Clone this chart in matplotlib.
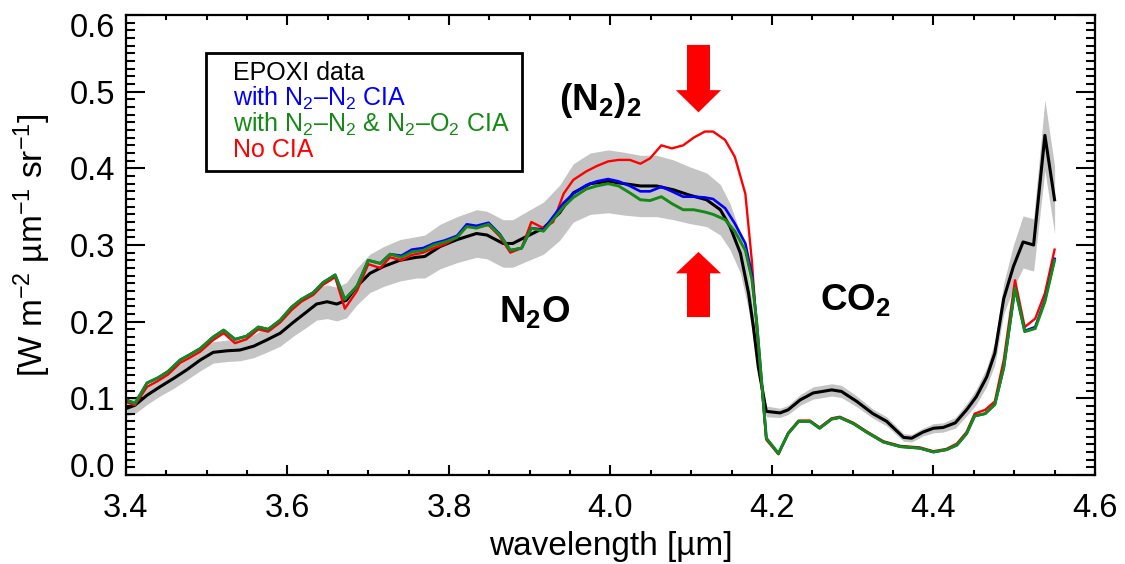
import matplotlib
matplotlib.use('Agg')
import matplotlib.pyplot as plt
from matplotlib.patches import Rectangle, FancyArrow
from matplotlib.ticker import MultipleLocator, FormatStrFormatter
from matplotlib.transforms import ScaledTranslation

plt.rcParams['font.family'] = ['Liberation Sans', 'DejaVu Sans']
plt.rcParams['mathtext.fontset'] = 'custom'
plt.rcParams['mathtext.rm'] = 'Liberation Sans'
plt.rcParams['mathtext.it'] = 'Liberation Sans:italic'
plt.rcParams['mathtext.bf'] = 'Liberation Sans:bold'

# EPOXI observation (black) with 1-sigma band
wl_obs = [3.401, 3.411, 3.426, 3.442, 3.459, 3.475, 3.492, 3.508, 3.525, 3.541,
          3.558, 3.574, 3.591, 3.607, 3.624, 3.636, 3.649, 3.661, 3.673, 3.686,
          3.702, 3.719, 3.739, 3.760, 3.770, 3.789, 3.810, 3.834, 3.847, 3.867,
          3.879, 3.892, 3.917, 3.937, 3.954, 3.975, 3.997, 4.017, 4.037, 4.057,
          4.078, 4.098, 4.119, 4.136, 4.148, 4.161, 4.171, 4.177, 4.183, 4.193,
          4.210, 4.220, 4.235, 4.251, 4.274, 4.286, 4.305, 4.325, 4.342, 4.363,
          4.373, 4.387, 4.400, 4.412, 4.427, 4.441, 4.453, 4.466, 4.476, 4.487,
          4.499, 4.511, 4.524, 4.538, 4.550]
obs = [0.087, 0.091, 0.104, 0.115, 0.126, 0.137, 0.150, 0.160, 0.162, 0.163,
       0.168, 0.176, 0.185, 0.199, 0.213, 0.223, 0.226, 0.223, 0.228, 0.246,
       0.263, 0.272, 0.280, 0.284, 0.285, 0.298, 0.307, 0.315, 0.313, 0.302,
       0.302, 0.309, 0.322, 0.342, 0.368, 0.380, 0.383, 0.380, 0.377, 0.377,
       0.372, 0.365, 0.359, 0.346, 0.324, 0.289, 0.237, 0.193, 0.141, 0.083,
       0.081, 0.085, 0.098, 0.107, 0.111, 0.109, 0.096, 0.080, 0.070, 0.049,
       0.048, 0.056, 0.061, 0.062, 0.068, 0.085, 0.102, 0.128, 0.159, 0.230,
       0.272, 0.304, 0.300, 0.443, 0.359]
obs_err = [0.010, 0.011, 0.012, 0.012, 0.013, 0.013, 0.014, 0.014, 0.014, 0.014,
           0.015, 0.016, 0.017, 0.018, 0.020, 0.021, 0.022, 0.022, 0.023, 0.024,
           0.025, 0.026, 0.027, 0.027, 0.028, 0.029, 0.030, 0.031, 0.031, 0.031,
           0.031, 0.032, 0.034, 0.036, 0.038, 0.040, 0.041, 0.041, 0.040, 0.040,
           0.039, 0.037, 0.035, 0.033, 0.030, 0.026, 0.022, 0.018, 0.013, 0.007,
           0.006, 0.006, 0.007, 0.008, 0.008, 0.008, 0.007, 0.006, 0.006, 0.005,
           0.005, 0.005, 0.006, 0.006, 0.007, 0.008, 0.010, 0.012, 0.015, 0.020,
           0.028, 0.034, 0.034, 0.046, 0.044]

# model spectra
wl_mod = [3.401, 3.411, 3.426, 3.440, 3.452, 3.467, 3.479, 3.492, 3.508, 3.521,
          3.535, 3.549, 3.564, 3.576, 3.591, 3.605, 3.617, 3.632, 3.644, 3.659,
          3.671, 3.686, 3.700, 3.715, 3.727, 3.741, 3.754, 3.768, 3.781, 3.795,
          3.810, 3.822, 3.834, 3.849, 3.863, 3.876, 3.890, 3.902, 3.917, 3.929,
          3.942, 3.954, 3.970, 3.983, 3.997, 4.010, 4.024, 4.037, 4.049, 4.063,
          4.076, 4.090, 4.103, 4.117, 4.127, 4.142, 4.154, 4.167, 4.175, 4.181,
          4.193, 4.208, 4.220, 4.233, 4.247, 4.259, 4.274, 4.284, 4.301, 4.317,
          4.338, 4.359, 4.383, 4.400, 4.416, 4.429, 4.441, 4.451, 4.464, 4.476,
          4.487, 4.501, 4.513, 4.526, 4.538, 4.550]
n2n2_o2 = [0.098, 0.093, 0.120, 0.127, 0.135, 0.150, 0.157, 0.165, 0.180, 0.189,
           0.177, 0.181, 0.193, 0.190, 0.202, 0.219, 0.229, 0.238, 0.251, 0.261,
           0.229, 0.246, 0.280, 0.276, 0.288, 0.284, 0.291, 0.293, 0.300, 0.304,
           0.310, 0.324, 0.322, 0.327, 0.313, 0.293, 0.296, 0.322, 0.318, 0.333,
           0.350, 0.362, 0.373, 0.377, 0.380, 0.377, 0.368, 0.359, 0.358, 0.363,
           0.354, 0.346, 0.346, 0.343, 0.340, 0.333, 0.318, 0.293, 0.255, 0.200,
           0.048, 0.028, 0.054, 0.070, 0.070, 0.061, 0.073, 0.075, 0.067, 0.056,
           0.043, 0.037, 0.035, 0.030, 0.033, 0.039, 0.054, 0.077, 0.080, 0.092,
           0.140, 0.244, 0.187, 0.191, 0.226, 0.280]
n2n2 = [0.098, 0.093, 0.120, 0.127, 0.135, 0.150, 0.157, 0.165, 0.180, 0.189,
        0.177, 0.181, 0.193, 0.190, 0.202, 0.219, 0.229, 0.238, 0.251, 0.261,
        0.229, 0.246, 0.280, 0.276, 0.288, 0.286, 0.294, 0.296, 0.302, 0.306,
        0.312, 0.327, 0.325, 0.329, 0.314, 0.293, 0.296, 0.322, 0.320, 0.337,
        0.355, 0.367, 0.378, 0.383, 0.386, 0.383, 0.377, 0.370, 0.370, 0.376,
        0.370, 0.363, 0.363, 0.362, 0.360, 0.348, 0.328, 0.302, 0.262, 0.200,
        0.048, 0.028, 0.054, 0.070, 0.070, 0.061, 0.073, 0.075, 0.067, 0.056,
        0.043, 0.037, 0.035, 0.030, 0.033, 0.039, 0.054, 0.077, 0.080, 0.092,
        0.140, 0.244, 0.188, 0.193, 0.228, 0.282]
no_cia = [0.095, 0.091, 0.115, 0.123, 0.131, 0.146, 0.153, 0.161, 0.176, 0.185,
          0.172, 0.177, 0.190, 0.187, 0.199, 0.215, 0.226, 0.235, 0.248, 0.258,
          0.217, 0.240, 0.275, 0.270, 0.284, 0.280, 0.287, 0.290, 0.296, 0.301,
          0.310, 0.325, 0.323, 0.326, 0.311, 0.290, 0.296, 0.330, 0.322, 0.330,
          0.367, 0.385, 0.396, 0.403, 0.409, 0.411, 0.411, 0.406, 0.413, 0.430,
          0.426, 0.430, 0.440, 0.448, 0.448, 0.437, 0.415, 0.367, 0.280, 0.193,
          0.046, 0.027, 0.055, 0.071, 0.071, 0.062, 0.074, 0.076, 0.068, 0.057,
          0.044, 0.038, 0.036, 0.031, 0.034, 0.041, 0.056, 0.080, 0.085, 0.096,
          0.150, 0.254, 0.193, 0.204, 0.237, 0.294]

labels = ['EPOXI data', 'with N$_\\mathregular{2}$–N$_\\mathregular{2}$ CIA',
          'with N$_\\mathregular{2}$–N$_\\mathregular{2}$ & N$_\\mathregular{2}$–O$_\\mathregular{2}$ CIA',
          'No CIA']
colors = ['black', '#0000ff', '#158a15', '#ff0000']

fig = plt.figure(figsize=(11.25, 5.64), dpi=100)
ax = fig.add_axes([0.112, 0.1578, 0.8613, 0.8156])

lo = [v - e for v, e in zip(obs, obs_err)]
hi = [v + e for v, e in zip(obs, obs_err)]
ax.fill_between(wl_obs, lo, hi, color='#c4c4c4', lw=0)
ax.plot(wl_obs, obs, color=colors[0], lw=2.2)
ax.plot(wl_mod, no_cia, color=colors[3], lw=1.7)
ax.plot(wl_mod, n2n2, color=colors[1], lw=1.9)
ax.plot(wl_mod, n2n2_o2, color=colors[2], lw=2.1)

ax.set_xlim(3.4, 4.6)
ax.set_ylim(0, 0.6)
ax.xaxis.set_major_locator(MultipleLocator(0.2))
ax.xaxis.set_minor_locator(MultipleLocator(0.05))
ax.yaxis.set_major_locator(MultipleLocator(0.1))
ax.yaxis.set_minor_locator(MultipleLocator(0.01))
ax.xaxis.set_major_formatter(FormatStrFormatter('%.1f'))
ax.yaxis.set_major_formatter(FormatStrFormatter('%.1f'))
ax.tick_params(axis='both', which='both', direction='in', top=True, right=True,
               width=1.5, labelsize=23.5)
ax.tick_params(axis='x', which='major', length=7, pad=13)
ax.tick_params(axis='x', which='minor', length=3.6)
ax.tick_params(axis='y', which='major', length=13.5, pad=8)
ax.tick_params(axis='y', which='minor', length=6.5)
for s in ax.spines.values():
    s.set_linewidth(1.6)

ax.set_xlabel('wavelength [µm]', fontsize=24, labelpad=5)
ax.set_ylabel('[W m$^{\\mathregular{-2}}$ µm$^{\\mathregular{-1}}$ sr$^{\\mathregular{-1}}$]',
              fontsize=24, labelpad=12)

# legend box with coloured text
ax.add_patch(Rectangle((0.0826, 0.6615), 0.3258, 0.2552, transform=ax.transAxes,
                       fill=False, ec='black', lw=2, zorder=5))
ys = [0.8587, 0.8028, 0.7463, 0.6906]
for lab, c, yy in zip(labels, colors, ys):
    ax.text(0.1104, yy, lab, color=c, fontsize=18, transform=ax.transAxes,
            va='baseline', ha='left')

# band labels
ax.text(3.987, 0.489, '(N$_\\mathbf{2}$)$_\\mathbf{2}$', fontsize=26.5,
        fontweight='bold', ha='center', va='center')
ax.text(3.906, 0.213, 'N$_\\mathbf{2}$O', fontsize=26.5, fontweight='bold',
        ha='center', va='center')
ax.text(4.303, 0.228, 'CO$_\\mathbf{2}$', fontsize=26.5, fontweight='bold',
        ha='center', va='center')

# red arrows
ax.add_patch(FancyArrow(4.109, 0.561, 0, -0.088, width=0.0285, head_width=0.056,
                        head_length=0.029, length_includes_head=True,
                        color='#ff0000', lw=0))
ax.add_patch(FancyArrow(4.109, 0.206, 0, 0.085, width=0.0285, head_width=0.056,
                        head_length=0.028, length_includes_head=True,
                        color='#ff0000', lw=0))

# keep the end y labels inside the frame, as in the original
fig.canvas.draw()
ylabs = ax.get_yticklabels()
for lab in ylabs:
    if lab.get_text() == '0.0':
        lab.set_transform(lab.get_transform() + ScaledTranslation(0, 7 / 72, fig.dpi_scale_trans))
    elif lab.get_text() == '0.6':
        lab.set_transform(lab.get_transform() + ScaledTranslation(0, -7 / 72, fig.dpi_scale_trans))

fig.savefig('out.png', dpi=100)
